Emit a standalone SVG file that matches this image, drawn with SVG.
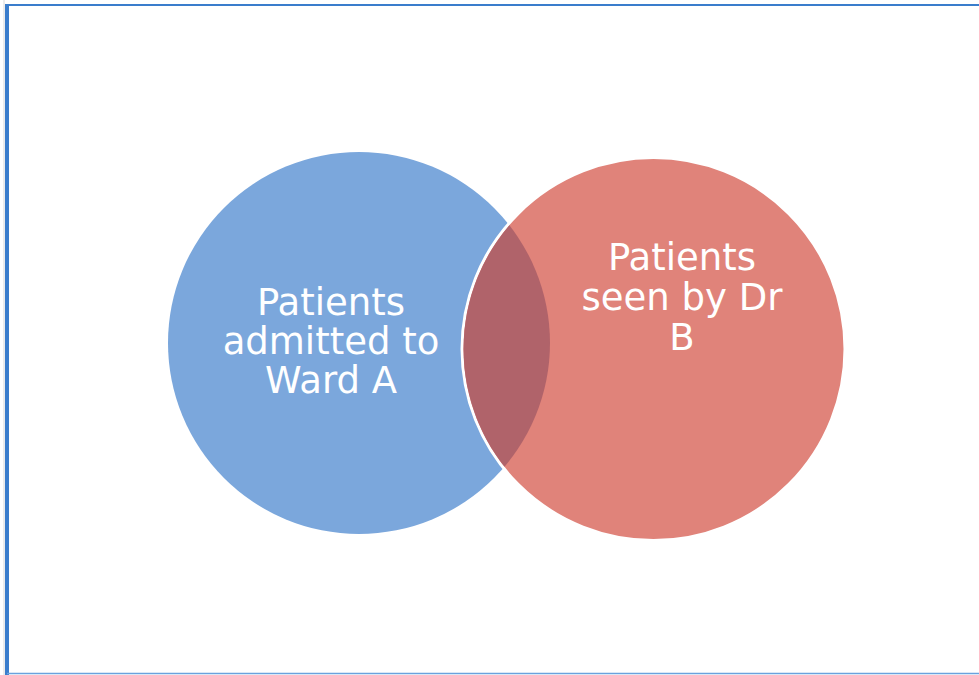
<svg xmlns="http://www.w3.org/2000/svg" width="979" height="675" viewBox="0 0 979 675">
<style>
.lbl{font-family:"DejaVu Sans",Verdana,sans-serif;font-size:37px;fill:#ffffff;text-anchor:middle}
</style>
<defs>
<clipPath id="redClip"><circle cx="653.5" cy="349" r="190"/></clipPath>
</defs>
<rect x="0" y="0" width="979" height="675" fill="#ffffff"/>
<g id="frame">
<line x1="4" y1="0" x2="4" y2="675" stroke="#d8d8d8" stroke-width="1"/>
<line x1="7" y1="4" x2="7" y2="675" stroke="#3a7dcc" stroke-width="4"/>
<line x1="5" y1="5" x2="979" y2="5" stroke="#3a7dcc" stroke-width="2"/>
<line x1="7" y1="673.5" x2="979" y2="673.5" stroke="#6aa2dd" stroke-width="1.5"/>
</g>
<g id="setA">
<circle cx="359" cy="343" r="191" fill="#7ba7dc"/>
</g>
<g id="setB">
<circle cx="653.5" cy="349" r="191.5" fill="#e0837a" stroke="#ffffff" stroke-width="3"/>
</g>
<g id="overlap">
<circle cx="359" cy="343" r="191" fill="#b0636a" clip-path="url(#redClip)"/>
</g>
<g id="labelA">
<text class="lbl" x="331" y="315">Patients</text>
<text class="lbl" x="331" y="354">admitted to</text>
<text class="lbl" x="331" y="393">Ward A</text>
</g>
<g id="labelB">
<text class="lbl" x="682" y="270">Patients</text>
<text class="lbl" x="682" y="310">seen by Dr</text>
<text class="lbl" x="682" y="350">B</text>
</g>
</svg>
